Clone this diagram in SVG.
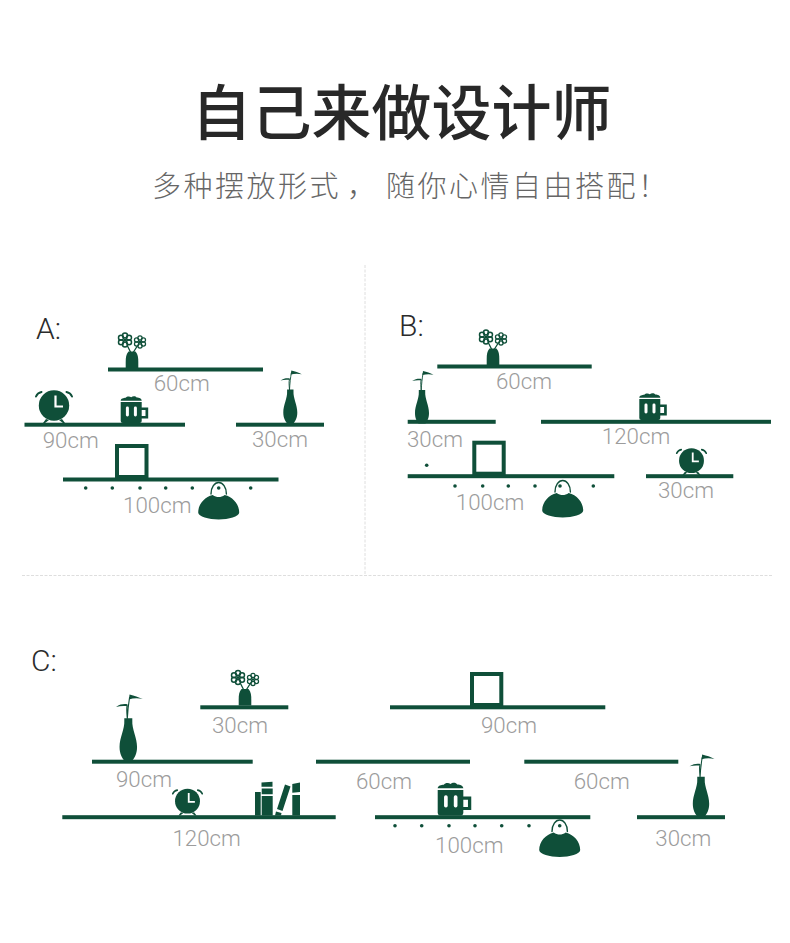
<svg xmlns="http://www.w3.org/2000/svg" xmlns:xlink="http://www.w3.org/1999/xlink" width="790" height="943" viewBox="0 0 790 943">
<style>
.bg{fill:#fff}
.s{fill:#0f4f39}
.fr{fill:none;stroke:#0f4f39;stroke-width:4}
.w{fill:#fff}
.ln{fill:none;stroke:#0f4f39;stroke-linecap:round}
.t{font-family:Roboto,"Liberation Sans",sans-serif;font-weight:300;font-size:22.3px;fill:#9c9c9c;text-anchor:middle}
.h{font-family:Roboto,"Liberation Sans",sans-serif;font-weight:300;font-size:30px;fill:#2b2b2b}
.title{font-family:"Noto Sans CJK SC",sans-serif;font-weight:500;font-size:60px;fill:#282828}
.sub{font-family:"Noto Sans CJK SC",sans-serif;font-weight:300;font-size:29px;fill:#666;letter-spacing:2.5px}
.sep{fill:none;stroke:#dedede;stroke-width:1;stroke-dasharray:3 1.5}
</style>
<defs>
<g id="flower" class="ln" stroke-width="1.5">
<circle cx="0" cy="-4.6" r="2.5"/><circle cx="4" cy="-2.3" r="2.5"/><circle cx="4" cy="2.3" r="2.5"/><circle cx="0" cy="4.6" r="2.5"/><circle cx="-4" cy="2.3" r="2.5"/><circle cx="-4" cy="-2.3" r="2.5"/>
<circle r="1.5" class="s" stroke="none"/>
</g>
<g id="flowervase">
<path class="s" d="M-3.5,-16.5 H3.5 C6,-14 6.3,-10 6.3,-6 V0 H-6.3 V-6 C-6.3,-10 -6,-14 -3.5,-16.5Z"/>
<path class="ln" stroke-width="1.3" d="M-1.5,-16 L-4.5,-22 M1.5,-16 L5,-21.5"/>
<use xlink:href="#flower" transform="translate(-7 -28)"/>
<use xlink:href="#flower" transform="translate(8 -26) scale(.85)"/>
</g>
<g id="clock">
<circle class="s" cx="0" cy="-17.5" r="15.2"/>
<path class="s" d="M-8,-4 L-11,0 H-9 L-5,-3Z M8,-4 L11,0 H9 L5,-3Z"/>
<path class="ln" stroke-width="2" fill="none" d="M-18,-26.5 C-17,-29 -15,-30.5 -12.5,-31 M18,-26.5 C17,-29 15,-30.5 12.5,-31"/>
<path fill="none" stroke="#fff" stroke-width="2.2" d="M1.5,-27.5 V-16.5 H9"/>
</g>
<g id="mug">
<path class="s" d="M0,-21 H21 V-2 Q21,0 19,0 H2 Q0,0 0,-2Z M21,-15.5 H27.5 V-4.5 H21 V-7 H24.8 V-13 H21Z"/>
<path class="s" d="M0,-22.3 C0,-24.5 3,-25 5,-25.2 C6,-26.8 9,-27 10.5,-25.8 C12,-27.2 15,-27.2 16,-25.5 C18.5,-25.5 21,-24.5 21,-22.3Z"/>
<rect class="w" x="5.2" y="-16.5" width="3" height="10" rx="1.4"/>
<rect class="w" x="13.2" y="-16.5" width="3" height="10" rx="1.4"/>
</g>
<g id="bamboo">
<path class="s" d="M-3.2,-33.5 H3.2 V-31.5 C2.8,-25 7,-18 7,-10.5 C7,-5 5,-2 3.5,0 H-3.5 C-5,-2 -7,-5 -7,-10.5 C-7,-18 -2.8,-25 -3.2,-31.5Z"/>
<path class="ln" stroke-width=".9" d="M-0.8,-33 C-1.2,-38 -1.5,-41 -1,-43 M-0.8,-33 C-0.5,-40 0.2,-45 1,-50"/>
<path class="s" d="M1,-52.5 C5,-51.5 8,-50.5 11.5,-48.8 C8,-49.6 4,-49.6 0.5,-48.5Z M-9.8,-42.5 C-6.5,-44.8 -3,-45 -0.5,-44.5 V-43 C-4,-43.5 -7,-43.2 -9.8,-42.5Z"/>
</g>
<g id="bag">
<path class="s" d="M-20.5,-7 C-20.5,-15.5 -14,-22.5 -6,-24.5 C-4,-23 -2,-22.5 0,-22.5 C2,-22.5 4,-23 6,-24.5 C14,-22.5 20.5,-15.5 20.5,-7 C20.5,-3 10,0 0,0 C-10,0 -20.5,-3 -20.5,-7Z"/>
<path class="ln" stroke-width="1.4" d="M-7.7,-25.5 C-7.7,-32.5 -4,-37 0,-37 C4,-37 7.7,-32.5 7.7,-25.5"/>
</g>
<circle id="d" r="1.8" class="s"/>
</defs>
<rect class="bg" width="790" height="943"/>

<g id="heading">
<text class="title" x="191.5" y="135">自己来做设计师</text>
<text class="sub" x="152" y="197">多种摆放形式<tspan x="347">，</tspan><tspan x="386">随你心情自由搭配！</tspan></text>
</g>

<g id="connectors">
<path class="sep" d="M365,265 V575"/>
<path class="sep" d="M22,575.5 H772"/>
</g>

<g id="panel-a">
<text class="h" x="36" y="339">A:</text>
<g id="a-shelf-60"><rect class="s" x="108" y="367.5" width="155" height="4"/><text class="t" x="181.7" y="390.7">60cm</text><use xlink:href="#flowervase" x="132" y="368"/></g>
<g id="a-shelf-90"><rect class="s" x="24.5" y="422.7" width="160.5" height="4"/><text class="t" x="70.7" y="448.3">90cm</text><use xlink:href="#clock" x="54" y="423"/><use xlink:href="#mug" x="120.7" y="423"/></g>
<g id="a-shelf-30"><rect class="s" x="236" y="422.7" width="88" height="4"/><text class="t" x="280" y="446.7">30cm</text><use xlink:href="#bamboo" x="290.3" y="423"/></g>
<g id="a-shelf-100"><rect class="s" x="63" y="477.5" width="215.5" height="4"/><rect class="fr" x="117" y="446" width="29.5" height="31"/><text class="t" x="157.3" y="512.7">100cm</text>
<use xlink:href="#d" x="85.7" y="488"/><use xlink:href="#d" x="112.3" y="488"/><use xlink:href="#d" x="140" y="488"/><use xlink:href="#d" x="165.7" y="488"/><use xlink:href="#d" x="192.3" y="488"/><use xlink:href="#d" x="218.7" y="488"/><use xlink:href="#d" x="250.7" y="488"/>
<use xlink:href="#bag" x="218.7" y="519.5"/></g>
</g>

<g id="panel-b">
<text class="h" x="399" y="336">B:</text>
<g id="b-shelf-60"><rect class="s" x="437.3" y="364.5" width="154.4" height="4"/><text class="t" x="524" y="389">60cm</text><use xlink:href="#flowervase" x="493" y="365"/></g>
<g id="b-shelf-30a"><rect class="s" x="407.7" y="419.8" width="88" height="4"/><text class="t" x="435" y="446.7">30cm</text><use xlink:href="#bamboo" x="422" y="423.5"/></g>
<g id="b-shelf-120"><rect class="s" x="541" y="419.8" width="230" height="4"/><text class="t" x="636" y="444">120cm</text><use xlink:href="#mug" x="639.3" y="420"/></g>
<g id="b-shelf-100"><rect class="s" x="407.7" y="474.2" width="206.6" height="4"/><rect class="fr" x="474.3" y="442.7" width="29.4" height="31"/><text class="t" x="490" y="510">100cm</text>
<use xlink:href="#d" x="426.7" y="465.3"/><use xlink:href="#d" x="455" y="486"/><use xlink:href="#d" x="482.7" y="486"/><use xlink:href="#d" x="508.3" y="486"/><use xlink:href="#d" x="535" y="486"/><use xlink:href="#d" x="560" y="486"/><use xlink:href="#d" x="593.3" y="486"/>
<use xlink:href="#bag" x="562.7" y="517.5"/></g>
<g id="b-shelf-30b"><rect class="s" x="646" y="474.2" width="87.3" height="4"/><text class="t" x="686" y="498.3">30cm</text><use xlink:href="#clock" transform="translate(691.5 475) scale(.82)"/></g>
</g>

<g id="panel-c">
<text class="h" x="31" y="671">C:</text>
<g id="c-shelf-30a"><rect class="s" x="200.3" y="705.3" width="88" height="4"/><text class="t" x="240" y="732.7">30cm</text><use xlink:href="#flowervase" x="245" y="705.5"/></g>
<g id="c-shelf-90a"><rect class="s" x="92" y="759.7" width="160.7" height="4"/><text class="t" x="144" y="787.3">90cm</text><use xlink:href="#bamboo" transform="translate(128.3 760) scale(1.25)"/></g>
<g id="c-shelf-120"><rect class="s" x="62.3" y="815.2" width="273.4" height="4"/><text class="t" x="206.7" y="846">120cm</text><use xlink:href="#clock" transform="translate(187.5 815.5) scale(.82)"/>
<g id="books" class="s">
<rect x="255" y="792" width="5.7" height="23.5"/>
<path d="M261.5,782.5 L272.5,781.7 V786.7 H261.5Z M261.7,788.5 H272.7 V794.3 H261.7Z M261.7,796 H272.7 V815.5 H261.7Z"/>
<path d="M285,784.5 L290.5,786.5 L282.5,811 L277,809Z M276,811.5 L281.5,813 L281,815.5 H275Z"/>
<path d="M292.3,784 L300,782.5 V792 L292.3,792.8Z M292.3,795 H300 V815.5 H292.3Z"/>
</g></g>
<g id="c-shelf-90b"><rect class="s" x="390" y="705.3" width="215.3" height="4"/><rect class="fr" x="472" y="674" width="29.3" height="31"/><text class="t" x="509" y="732.7">90cm</text></g>
<g id="c-shelf-60a"><rect class="s" x="316" y="759.7" width="154" height="4"/><text class="t" x="384" y="789.3">60cm</text></g>
<g id="c-shelf-60b"><rect class="s" x="524.3" y="759.7" width="154" height="4"/><text class="t" x="601.7" y="789.3">60cm</text></g>
<g id="c-shelf-100"><rect class="s" x="375" y="815.2" width="215.3" height="4"/><text class="t" x="469.3" y="853.3">100cm</text><use xlink:href="#mug" transform="translate(437.7 815.5) scale(1.22)"/>
<use xlink:href="#d" x="395" y="825.7"/><use xlink:href="#d" x="421.7" y="825.7"/><use xlink:href="#d" x="449" y="825.7"/><use xlink:href="#d" x="475" y="825.7"/><use xlink:href="#d" x="501.7" y="825.7"/><use xlink:href="#d" x="529" y="825.7"/><use xlink:href="#d" x="559.7" y="825.7"/>
<use xlink:href="#bag" x="559.7" y="857"/></g>
<g id="c-shelf-30b"><rect class="s" x="637" y="815.2" width="88" height="4"/><text class="t" x="683.3" y="846">30cm</text><use xlink:href="#bamboo" transform="translate(701 816) scale(1.17)"/></g>
</g>
</svg>
